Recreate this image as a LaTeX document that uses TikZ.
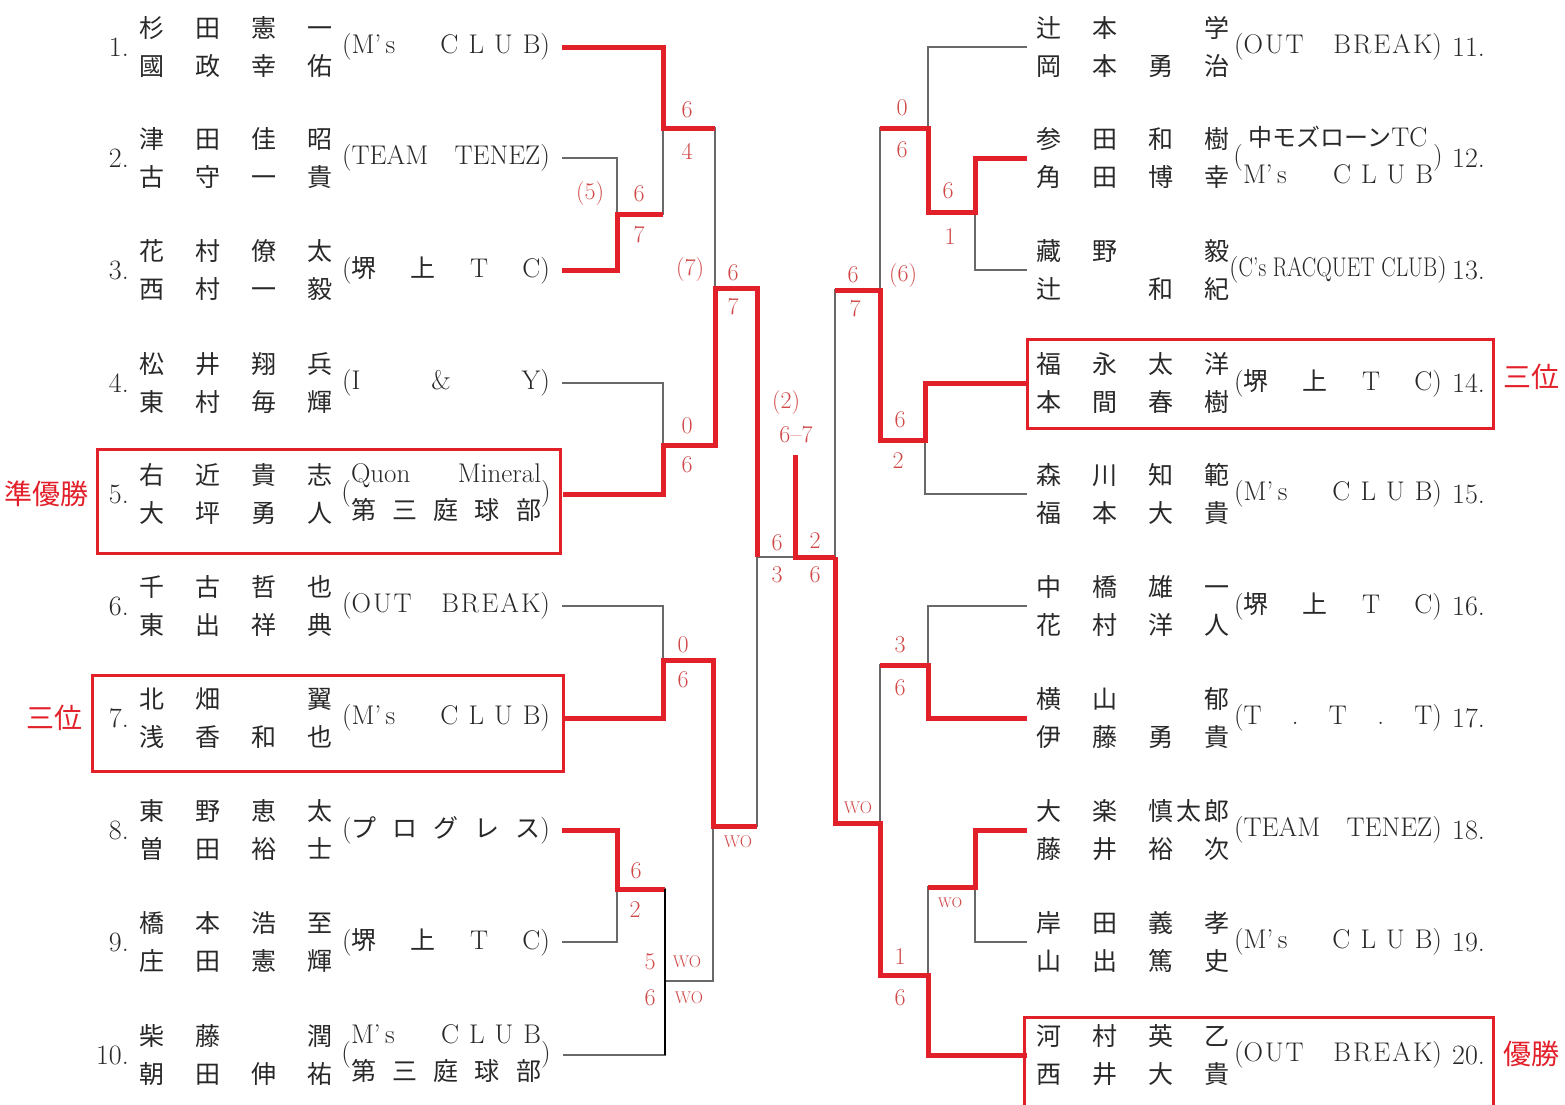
\documentclass[tikz,border=0pt]{standalone}
\usepackage{fontspec}
\usepackage{graphicx}
\newfontfamily\jp{Noto Sans CJK JP}
\usetikzlibrary{calc}

\definecolor{winred}{RGB}{226,32,42}
\definecolor{scorered}{RGB}{208,72,72}
\definecolor{linegray}{RGB}{105,105,105}
\definecolor{inkgray}{RGB}{40,40,40}

\newcommand\nm[4]{\makebox[25pt]{#1}\hspace{31pt}\makebox[25pt]{#2}\hspace{31pt}\makebox[25pt]{#3}\hspace{31pt}\makebox[25pt]{#4}}
\newcommand\clubline[1]{\makebox[208pt]{#1}}
\newcommand\clubtwo[2]{(\begin{tabular}{@{}c@{}}\makebox[190pt]{#1}\\\makebox[190pt]{#2}\end{tabular})}
\newcommand\msclub{M'\,s\hfill C\hspace{10pt}L\hspace{10pt}U\hspace{10pt}B}
\newcommand\outbreak{O\kern2pt U\kern2pt T\hfill B\kern2pt R\kern2pt E\kern2pt A\kern2pt K}
\newcommand\tenez{TEAM\hfill TENEZ}
\newcommand\sakai{{\jp\fontsize{25}{37}\selectfont 堺}\hfill{\jp\fontsize{25}{37}\selectfont 上}\hfill T\hfill C}
\newcommand\teikyu{\jp\fontsize{25}{37}\selectfont 第\hfill 三\hfill 庭\hfill 球\hfill 部}

\begin{document}
\begin{tikzpicture}[
  x=1pt, y=-1pt,
  num/.style={font=\fontsize{28}{30}\selectfont, text=inkgray, inner sep=0pt},
  pair/.style={font=\jp\fontsize{25}{38}\selectfont, text=inkgray, align=center, inner sep=0pt, outer xsep=9.5pt},
  club/.style={font=\fontsize{27}{37}\selectfont, text=inkgray, inner sep=0pt, outer xsep=12pt},
  score/.style={font=\fontsize{24}{26}\selectfont, text=scorered, inner sep=0pt},
  wo/.style={font=\fontsize{17}{18}\selectfont, text=scorered, inner sep=0pt},
  rank/.style={font=\jp\fontsize{28}{30}\selectfont, text=winred, inner sep=0pt},
  lose/.style={draw=linegray, line width=1.3pt},
  win/.style={draw=winred, line width=5pt},
  prize/.style={draw=winred, line width=3pt},
]
  \useasboundingbox (0,0) rectangle (1565,1104);

  % left half
  \foreach \i/\y in {1/47,2/158,3/270,4/383,5/494,6/606,7/718,8/830,9/942,10/1055}
    \node[num, anchor=east] (n\i) at (129,\y) {\i.};
  \node[pair] (p1) at (236,47) {\nm{杉}{田}{憲}{一}\\\nm{國}{政}{幸}{佑}};
  \node[club] (c1) at (446,47) {\clubline{(\msclub)}};
  \node[pair] (p2) at (236,158) {\nm{津}{田}{佳}{昭}\\\nm{古}{守}{一}{貴}};
  \node[club] (c2) at (446,158) {\clubline{(\tenez)}};
  \node[pair] (p3) at (236,270) {\nm{花}{村}{僚}{太}\\\nm{西}{村}{一}{毅}};
  \node[club] (c3) at (446,270) {\clubline{(\sakai)}};
  \node[pair] (p4) at (236,383) {\nm{松}{井}{翔}{兵}\\\nm{東}{村}{毎}{輝}};
  \node[club] (c4) at (446,383) {\clubline{(I\hfill\&\hfill Y)}};
  \node[pair] (p5) at (236,494) {\nm{右}{近}{貴}{志}\\\nm{大}{坪}{勇}{人}};
  \node[club] (c5) at (446,494) {\clubtwo{Quon\hfill Mineral}{\teikyu}};
  \node[pair] (p6) at (236,606) {\nm{千}{古}{哲}{也}\\\nm{東}{出}{祥}{典}};
  \node[club] (c6) at (446,606) {\clubline{(\outbreak)}};
  \node[pair] (p7) at (236,718) {\nm{北}{畑}{}{翼}\\\nm{浅}{香}{和}{也}};
  \node[club] (c7) at (446,718) {\clubline{(\msclub)}};
  \node[pair] (p8) at (236,830) {\nm{東}{野}{恵}{太}\\\nm{曽}{田}{裕}{士}};
  \node[club] (c8) at (446,830) {\clubline{({\jp\fontsize{25}{37}\selectfont プ\hfill ロ\hfill グ\hfill レ\hfill ス})}};
  \node[pair] (p9) at (236,942) {\nm{橋}{本}{浩}{至}\\\nm{庄}{田}{憲}{輝}};
  \node[club] (c9) at (446,942) {\clubline{(\sakai)}};
  \node[pair] (p10) at (236,1055) {\nm{柴}{藤}{}{潤}\\\nm{朝}{田}{伸}{祐}};
  \node[club] (c10) at (446,1055) {\clubtwo{\msclub}{\teikyu}};

  % right half
  \foreach \i/\y in {11/47,12/158,13/270,14/383,15/494,16/606,17/718,18/830,19/942,20/1055}
    \node[num, anchor=west] (n\i) at (1452,\y) {\i.};
  \node[pair] (p11) at (1133,47) {\nm{辻}{本}{}{学}\\\nm{岡}{本}{勇}{治}};
  \node[club] (c11) at (1338,47) {\clubline{(\outbreak)}};
  \node[pair] (p12) at (1133,158) {\nm{参}{田}{和}{樹}\\\nm{角}{田}{博}{幸}};
  \node[club] (c12) at (1338,158) {\clubtwo{{\jp\fontsize{24}{37}\selectfont 中モズローン}TC}{\msclub}};
  \node[pair] (p13) at (1133,270) {\nm{藏}{野}{}{毅}\\\nm{辻}{}{和}{紀}};
  \node[club] (c13) at (1338,270) {\clubline{(\hfill\scalebox{0.8}[1]{C's RACQUET CLUB}\hfill)}};
  \node[pair] (p14) at (1133,383) {\nm{福}{永}{太}{洋}\\\nm{本}{間}{春}{樹}};
  \node[club] (c14) at (1338,383) {\clubline{(\sakai)}};
  \node[pair] (p15) at (1133,494) {\nm{森}{川}{知}{範}\\\nm{福}{本}{大}{貴}};
  \node[club] (c15) at (1338,494) {\clubline{(\msclub)}};
  \node[pair] (p16) at (1133,606) {\nm{中}{橋}{雄}{一}\\\nm{花}{村}{洋}{人}};
  \node[club] (c16) at (1338,606) {\clubline{(\sakai)}};
  \node[pair] (p17) at (1133,718) {\nm{横}{山}{}{郁}\\\nm{伊}{藤}{勇}{貴}};
  \node[club] (c17) at (1338,718) {\clubline{(T\hfill .\hfill T\hfill .\hfill T)}};
  \node[pair] (p18) at (1133,830) {\makebox[25pt]{大}\hspace{31pt}\makebox[25pt]{楽}\hspace{31pt}\makebox[81pt][s]{慎\hfill 太\hfill 郎}\\\nm{藤}{井}{裕}{次}};
  \node[club] (c18) at (1338,830) {\clubline{(\tenez)}};
  \node[pair] (p19) at (1133,942) {\nm{岸}{田}{義}{孝}\\\nm{山}{出}{篤}{史}};
  \node[club] (c19) at (1338,942) {\clubline{(\msclub)}};
  \node[pair] (p20) at (1133,1055) {\nm{河}{村}{英}{乙}\\\nm{西}{井}{大}{貴}};
  \node[club] (c20) at (1338,1055) {\clubline{(\outbreak)}};

  % prize boxes and ranks
  \draw[prize] (97,449) rectangle (560,553);
  \draw[prize] (92,675) rectangle (563,771);
  \draw[prize] (1027,339) rectangle (1493,428);
  \draw[prize] (1024,1017) rectangle (1493,1110);
  \node[rank] (r2) at (47,494) {準優勝};
  \node[rank] (r3a) at (55,718) {三位};
  \node[rank] (r3b) at (1531,377) {三位};
  \node[rank] (r1) at (1531,1054) {優勝};

  % junctions
  \coordinate (j23) at (617,214);
  \coordinate (j13) at (663,128);
  \coordinate (j45) at (663,445);
  \coordinate (q1) at (715,288);
  \coordinate (j67) at (663,660);
  \coordinate (j89) at (617,889);
  \coordinate (j810) at (665,981);
  \coordinate (q2) at (713,826);
  \coordinate (semiL) at (757,557);
  \coordinate (semiR) at (835,557);
  \coordinate (champ) at (795,455);
  \coordinate (j1213) at (975,212);
  \coordinate (j1113) at (928,128);
  \coordinate (j1415) at (925,440);
  \coordinate (q3) at (880,290);
  \coordinate (j1617) at (928,665);
  \coordinate (j1819) at (975,887);
  \coordinate (j1820) at (928,975);
  \coordinate (q4) at (880,823);

  % bracket
  \draw[lose] (c2.east) -| (j23) |- (c3.east);
  \draw[lose] (c1.east) -| (j13) |- (j23);
  \draw[lose] (c4.east) -| (j45) |- (c5.east);
  \draw[lose] (j13) -| (q1) |- (j45);
  \draw[lose] (c6.east) -| (j67) |- (c7.east);
  \draw[lose] (c8.east) -| (j89) |- (c9.east);
  \draw[lose] (j89) -| (j810) |- (c10.east);
  \draw[lose] (j67) -| (q2) |- (j810);
  \draw[lose] (q1) -| (semiL) |- (q2);
  \draw[lose] (semiL) -- (semiR);
  \draw[lose] (p12.west) -| (j1213) |- (p13.west);
  \draw[lose] (p11.west) -| (j1113) |- (j1213);
  \draw[lose] (p14.west) -| (j1415) |- (p15.west);
  \draw[lose] (j1113) -| (q3) |- (j1415);
  \draw[lose] (p16.west) -| (j1617) |- (p17.west);
  \draw[lose] (p18.west) -| (j1819) |- (p19.west);
  \draw[lose] (j1819) -| (j1820) |- (p20.west);
  \draw[lose] (j1617) -| (q4) |- (j1820);
  \draw[lose] (q3) -| (semiR) |- (q4);

  % winners
  \draw[win] (c3.east) -| (j23) -- (j23 -| j13);
  \draw[win] (c1.east) -| (j13) -- (j13 -| q1);
  \draw[win] (c5.east) -| (j45) -- (j45 -| q1) -- (q1) -- (q1 -| semiL) -- (semiL);
  \draw[win] (c7.east) -| (j67) -- (j67 -| q2) -- (q2) -- (q2 -| semiL);
  \draw[win] (c8.east) -| (j89) -- (j89 -| j810);
  \draw[line width=2.5pt] (j89 -| j810) -- (j810 |- c10.east);
  \draw[win] (champ) -- (champ |- semiR) -- (semiR);
  \draw[win] (p12.west) -| (j1213) -- (j1213 -| j1113) -- (j1113) -- (j1113 -| q3);
  \draw[win] (p14.west) -| (j1415) -- (j1415 -| q3) -- (q3) -- (q3 -| semiR);
  \draw[win] (p17.west) -| (j1617) -- (j1617 -| q4);
  \draw[win] (p18.west) -| (j1819) -- (j1819 -| j1820);
  \draw[win] (p20.west) -| (j1820) -- (j1820 -| q4) -- (q4) -- (q4 -| semiR) -- (semiR);

  % scores
  \foreach \px/\py/\txt [count=\k] in {590/194/(5), 639/194/6, 639/235/7, 687/110/6, 687/151/4,
      687/426/0, 687/465/6, 690/270/(7), 733/273/6, 733/307/7, 786/403/(2), 796/435/6--7,
      777/543/6, 777/575/3, 815/541/2, 815/575/6, 683/645/0, 683/680/6, 636/871/6, 635/910/2,
      650/962/5, 650/998/6, 902/108/0, 902/150/6, 948/191/6, 950/237/1, 853/275/6, 903/276/(6),
      855/309/7, 900/420/6, 898/461/2, 900/645/3, 900/688/6, 900/957/1, 900/998/6}
    \node[score] (s\k) at (\px,\py) {\txt};
  \foreach \px/\py [count=\k] in {738/842, 687/962, 689/998, 858/808}
    \node[wo] (w\k) at (\px,\py) {WO};
  \node[wo, font=\fontsize{14}{15}\selectfont] (w5) at (950,903) {WO};
\end{tikzpicture}
\end{document}
